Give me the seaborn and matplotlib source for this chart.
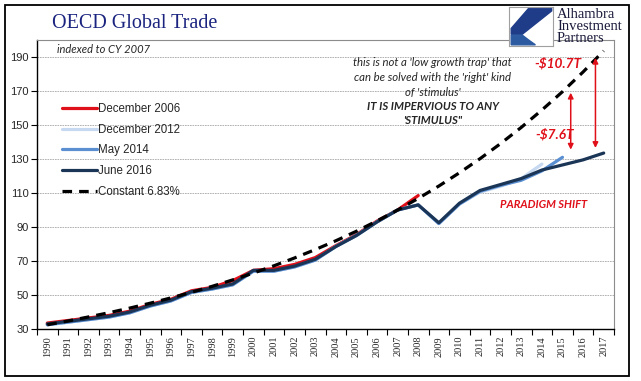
import pandas as pd
import matplotlib
matplotlib.use("Agg")
from matplotlib import pyplot as plt
from matplotlib.patches import Rectangle, Polygon
import seaborn as sns

years = list(range(1990, 2018))
dec2006 = [33.5, 35, 36.5, 38, 40.5, 44.5, 47.5, 52.5, 54.5, 58.5, 64.5, 65.5, 68, 72,
           79, 85.5, 93.5, 100, 108.5]
dec2012 = [32.5, 34, 35.5, 37, 39.5, 43.5, 46.5, 51.5, 53.5, 56, 64, 64, 66.5, 70.5,
           78.5, 85, 93, 100, 103, 92, 103.5, 110.5, 114, 118.5, 127]
may2014 = [32.5, 34, 35.5, 37, 39.5, 43.5, 46.5, 51.5, 53.5, 56, 64, 64, 66.5, 70.5,
           78.5, 85, 93, 100, 103, 92, 103.5, 111, 114.5, 117.5, 123, 131]
jun2016 = [33, 34.5, 36, 37.5, 40, 44, 47, 52, 54, 56.5, 64.5, 64.5, 67, 71,
           78.5, 85, 93, 100, 103, 92.5, 104, 111.5, 115, 118.5, 123.5, 126.5, 129.5, 133.5]
constant = [32.5, 34.7, 37.1, 39.6, 42.3, 45.2, 48.3, 51.6, 55.1, 58.9, 62.9, 67.2, 71.8, 76.7,
            81.9, 87.5, 93.6, 100, 106.8, 114.1, 121.9, 130.2, 139.1, 148.6, 158.8, 169.6,
            181.2, 193.6]
series_names = ["December 2006", "December 2012", "May 2014", "June 2016", "Constant 6.83%"]
series_values = [dec2006, dec2012, may2014, jun2016, constant]

# gap arrows: (x position, top, bottom)
gap_arrows = [(2016.6, 189.5, 136.5), (2015.4, 169.0, 135.5)]

rows = []
for name, vals in zip(series_names, series_values):
    for y, v in zip(years, vals):
        rows.append({"year": y, "value": v, "series": name})
df = pd.DataFrame(rows)

sns.set_style("white")
narrow = ["Liberation Sans Narrow", "Liberation Sans", "DejaVu Sans"]

fig = plt.figure(figsize=(6.41, 3.81), dpi=100)
ax = fig.add_axes([37 / 641, 1 - 329 / 381, (614 - 37) / 641, (329 - 40) / 381])

palette = {"December 2006": "#E0101A", "December 2012": "#C6D9F1", "May 2014": "#5A8FD2",
           "June 2016": "#1B3556", "Constant 6.83%": "black"}
dashes = {n: "" for n in series_names}
dashes["Constant 6.83%"] = (3, 2.2)
sns.lineplot(data=df, x="year", y="value", hue="series", style="series",
             hue_order=series_names, style_order=series_names, palette=palette,
             dashes=dashes, linewidth=2.3, sort=False, ax=ax)

ax.set_xlim(1989.5, 2017.5)
ax.set_ylim(30, 200)
ax.set_xlabel("")
ax.set_ylabel("")
ax.set_yticks(range(30, 200, 20))
ax.set_xticks(years)
ax.set_xticks([y + 0.5 for y in [1989] + years], minor=True)
ax.set_xticklabels([str(y) for y in years], rotation=90, family="Liberation Serif", fontsize=7.5)
for lab in ax.get_yticklabels():
    lab.set_family(narrow)
    lab.set_fontsize(8)
ax.tick_params(axis="x", which="major", length=0, pad=5)
ax.tick_params(axis="x", which="minor", length=4, width=0.8, direction="out", color="black", bottom=True)
ax.tick_params(axis="y", length=4, width=0.8, direction="out", color="black", left=True, pad=2)
for y in range(50, 200, 20):
    ax.axhline(y, color="#A6A6A6", lw=0.6, ls=(0, (2, 1)), zorder=0)
for s in ["left", "bottom"]:
    ax.spines[s].set_color("black")
    ax.spines[s].set_linewidth(1)
for s in ["top", "right"]:
    ax.spines[s].set_color("#8C8C8C")
    ax.spines[s].set_linewidth(0.8)

handles, labels = ax.get_legend_handles_labels()
leg = ax.legend(handles, labels, loc="upper left", bbox_to_anchor=(62 / 641, 1 - 103 / 381),
                bbox_transform=fig.transFigure, frameon=False, borderpad=0, borderaxespad=0,
                handlelength=3.0, handletextpad=0.15, labelspacing=0.75,
                prop={"family": narrow, "size": 8.3})

# annotations
red = "#E0101A"
ax.text(0.034, 0.985, "indexed to CY 2007", transform=ax.transAxes, ha="left", va="top",
        family="Lato", style="italic", fontsize=8)
note = ["this is not a 'low growth trap' that", "can be solved with the 'right' kind", "of 'stimulus'"]
note_y = [187.0, 178.2, 169.0]
for line, y in zip(note, note_y):
    ax.text(2008.7, y, line, ha="center", va="center", family="Lato",
            style="italic", fontsize=8.2)
ax.text(2008.7, 160.8, "IT IS IMPERVIOUS TO ANY", ha="center", va="center", family="Lato",
        style="italic", weight="bold", fontsize=8.2)
ax.text(2008.7, 152.5, "'STIMULUS\"", ha="center", va="center", family="Lato",
        style="italic", weight="bold", fontsize=8.2)
ax.text(2014.8, 186.5, "-$10.7T", ha="center", va="center", color=red, family="Lato",
        style="italic", weight="bold", fontsize=9.8)
ax.text(2014.6, 144.5, "-$7.6T", ha="center", va="center", color=red, family="Lato",
        style="italic", weight="bold", fontsize=9.8)
ax.text(2014.1, 103.5, "PARADIGM SHIFT", ha="center", va="center", color=red, family="Lato",
        style="italic", weight="bold", fontsize=8)
for x, top, bot in gap_arrows:
    ax.annotate("", xy=(x, top), xytext=(x, bot),
                arrowprops=dict(arrowstyle="<|-|>", color=red, lw=1.1, mutation_scale=8,
                                shrinkA=0, shrinkB=0))

# title and logo
fig.text(52 / 641, 1 - 23 / 381, "OECD Global Trade", ha="left", va="center",
         family="Liberation Serif", fontsize=14.5, color="#1A237E")
logo = fig.add_axes([509 / 641, 1 - 46 / 381, 44 / 641, 39 / 381])
logo.set_xlim(0, 1)
logo.set_ylim(0, 1)
logo.set_xticks([])
logo.set_yticks([])
for s in logo.spines.values():
    s.set_color("#A0A0A0")
    s.set_linewidth(0.8)
logo.add_patch(Polygon([(0.45, 0.97), (0.97, 0.97), (0.97, 0.9), (0.3, 0.3), (0.05, 0.3), (0.05, 0.45)],
                       closed=True, color="#1F3C88"))
logo.add_patch(Polygon([(0.05, 0.28), (0.3, 0.28), (0.45, 0.15), (0.6, 0.03), (0.05, 0.03)],
                       closed=True, color="#2C5AA0"))
for i, word in enumerate(["Alhambra", "Investment", "Partners"]):
    fig.text(557 / 641, 1 - (14 + i * 12.5) / 381, word, ha="left", va="center",
             family="Liberation Serif", fontsize=10.5, color="#1A1A3A")

fig.patches.append(Rectangle((5 / 641, 5 / 381), 624 / 641, 371 / 381, transform=fig.transFigure,
                             fill=False, edgecolor="black", lw=1.3))

fig.savefig("out.png", dpi=100)
